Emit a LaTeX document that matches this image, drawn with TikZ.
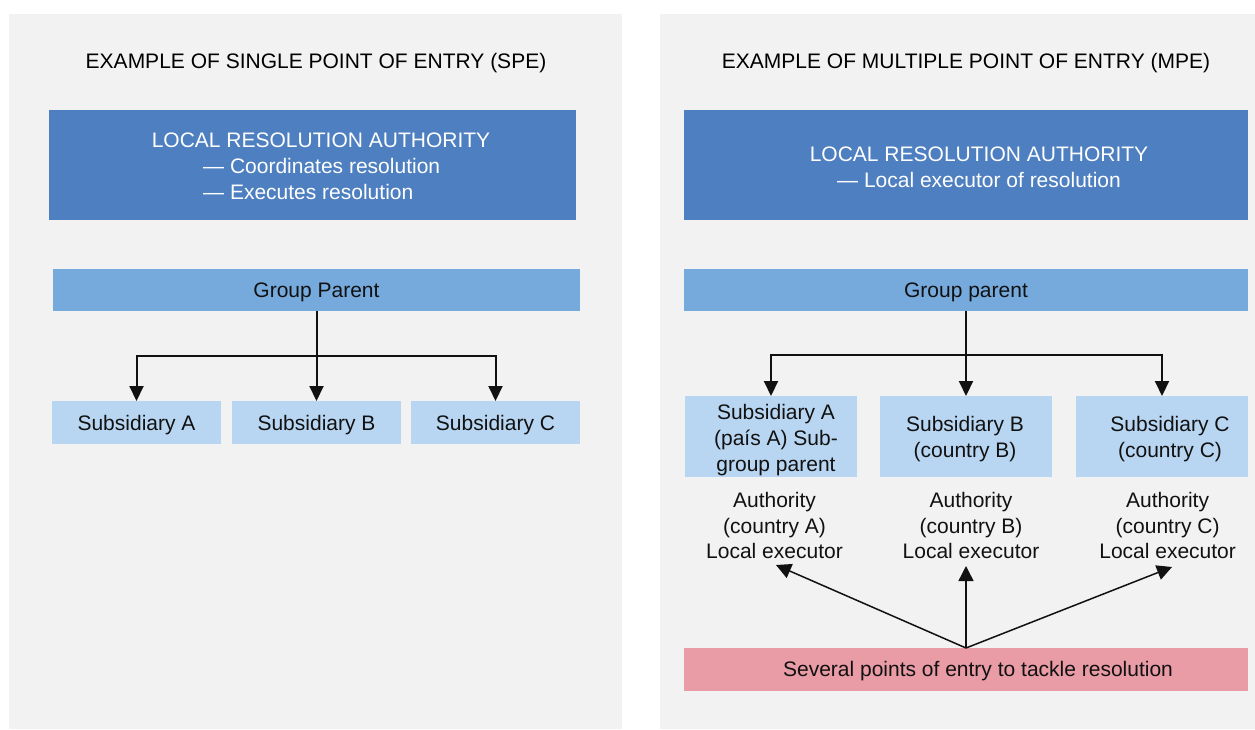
\documentclass[tikz,border=0pt]{standalone}
\usepackage{fontspec}
\setmainfont{Liberation Sans}
\usetikzlibrary{arrows.meta,fit}

\definecolor{panelgray}{RGB}{242,242,242}
\definecolor{authblue}{RGB}{78,127,192}
\definecolor{parentblue}{RGB}{118,170,220}
\definecolor{subblue}{RGB}{184,214,242}
\definecolor{entrypink}{RGB}{233,155,166}
\definecolor{ink}{RGB}{17,17,17}

\begin{document}
\begin{tikzpicture}[x=1pt,y=-1pt,
  txt/.style={font=\fontsize{21}{25.6}\selectfont, text=ink, align=center, inner sep=0pt},
  wtxt/.style={txt, text=white},
  title/.style={font=\fontsize{21}{25.6}\selectfont, text=black, inner sep=0pt, anchor=base},
  boxfit/.style={inner sep=0pt, outer sep=0pt, draw=none},
  authbox/.style={boxfit, fill=authblue},
  parentbox/.style={boxfit, fill=parentblue},
  subbox/.style={boxfit, fill=subblue},
  entrybox/.style={boxfit, fill=entrypink},
  tree/.style={draw=ink, line width=2pt, -{Triangle[width=14pt,length=15pt]}},
  entryarrow/.style={draw=ink, line width=1.5pt, -{Triangle[width=15pt,length=15pt]}}
]
% canvas and the two panels
\fill[white] (0,0) rectangle (1255,729);
\path[use as bounding box] (0,0) rectangle (1255,729);
\fill[panelgray] (9,14) rectangle (622,729);
\fill[panelgray] (660,14) rectangle (1255,729);

% ---------- single point of entry ----------
\node[title] (titleL) at (316,68.3) {EXAMPLE OF SINGLE POINT OF ENTRY (SPE)};

\node[authbox, fit={(49,110) (575.5,220)}] (authL) {};
\node[wtxt] (authLhead) at (321,140.5) {LOCAL RESOLUTION AUTHORITY};
\node[wtxt, align=left, anchor=north west] (authLitems) at (203,158.5)
  {— Coordinates resolution\\— Executes resolution};

\node[parentbox, fit={(53,269) (580,311)}] (gpL) {};
\node[txt] at ([yshift=-2.5pt]gpL.center) {Group Parent};

\node[subbox, fit={(52,401) (221,444)}] (sAL) {};
\node[subbox, fit={(232,401) (401,444)}] (sBL) {};
\node[subbox, fit={(411,401) (580,444)}] (sCL) {};
\node[txt] at ([yshift=-3pt]sAL.center) {Subsidiary A};
\node[txt] at ([yshift=-3pt]sBL.center) {Subsidiary B};
\node[txt] at ([yshift=-3pt]sCL.center) {Subsidiary C};

\coordinate (jL) at (316.5,355.7);
\draw[tree] (gpL.south) -- (sBL.north);
\draw[tree] (jL) -| (sAL.north);
\draw[tree] (jL) -| (sCL.north);

% ---------- multiple point of entry ----------
\node[title] (titleR) at (966,68.3) {EXAMPLE OF MULTIPLE POINT OF ENTRY (MPE)};

\node[authbox, fit={(684,110) (1248,220)}] (authR) {};
\node[wtxt] (authRtext) at (979,167)
  {LOCAL RESOLUTION AUTHORITY\\— Local executor of resolution};

\node[parentbox, fit={(684,269) (1248,311)}] (gpR) {};
\node[txt] at ([yshift=-2.5pt]gpR.center) {Group parent};

\node[subbox, fit={(685,396) (857,477)}] (sAR) {};
\node[subbox, fit={(880,396) (1052,477)}] (sBR) {};
\node[subbox, fit={(1076,396) (1248,477)}] (sCR) {};
\node[txt] (sARt) at (776,440) {Subsidiary A\\(país A) Sub-\\group parent};
\node[txt] (sBRt) at (965,439) {Subsidiary B\\(country B)};
\node[txt] (sCRt) at (1170,439) {Subsidiary C\\(country C)};

\coordinate (jR) at (966,355);
\draw[tree] (gpR.south) -- (sBR.north);
\draw[tree] (jR) -| (sAR.north);
\draw[tree] (jR) -| (sCR.north);

% local authorities
\node[txt] (aA) at (774.5,525.6) {Authority\\(country A)\\Local executor};
\node[txt] (aB) at (971,525.6) {Authority\\(country B)\\Local executor};
\node[txt] (aC) at (1167.6,525.6) {Authority\\(country C)\\Local executor};

% entry points
\node[entrybox, fit={(684,648) (1248,691)}] (entry) {};
\node[txt] (entryText) at (978,671.5) {Several points of entry to tackle resolution};

\coordinate (tA) at (776,565);
\coordinate (tB) at (966,566);
\coordinate (tC) at (1172,567);
\draw[entryarrow] (entry.north) -- (tA);
\draw[entryarrow] (entry.north) -- (tB);
\draw[entryarrow] (entry.north) -- (tC);
\end{tikzpicture}
\end{document}
